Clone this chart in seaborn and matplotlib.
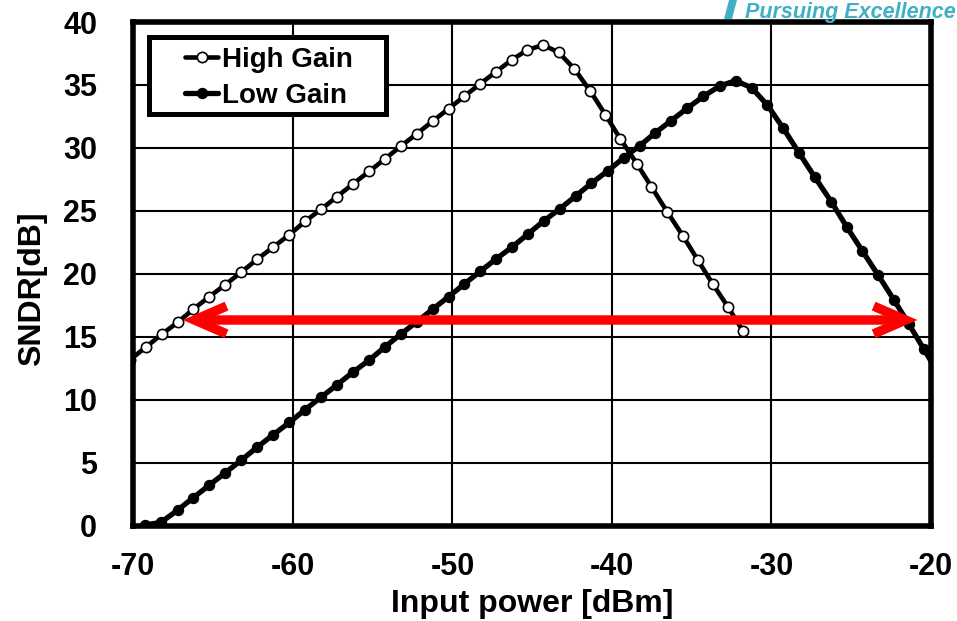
import numpy as np
import pandas as pd
import matplotlib
matplotlib.use("Agg")
import matplotlib.pyplot as plt
from matplotlib.patches import Rectangle, Polygon
import seaborn as sns

# ---------------- data ----------------
high_x = [-70.22, -69.22, -68.22, -67.21, -66.24, -65.23, -64.23, -63.22, -62.24, -61.22,
          -60.21, -59.23, -58.22, -57.24, -56.24, -55.21, -54.21, -53.22, -52.22, -51.22,
          -50.24, -49.25, -48.25, -47.26, -46.27, -45.30, -44.32, -43.34, -42.35, -41.35,
          -40.41, -39.47, -38.44, -37.52, -36.54, -35.56, -34.62, -33.68, -32.71, -31.79]
high_y = [13.16, 14.16, 15.20, 16.15, 17.19, 18.19, 19.14, 20.14, 21.15, 22.13,
          23.11, 24.17, 25.13, 26.12, 27.13, 28.14, 29.14, 30.15, 31.13, 32.14,
          33.11, 34.10, 35.10, 36.05, 37.00, 37.78, 38.17, 37.59, 36.27, 34.50,
          32.64, 30.71, 28.75, 26.90, 24.93, 23.03, 21.10, 19.19, 17.34, 15.46]

low_x = [-69.27, -68.26, -67.21, -66.24, -65.23, -64.23, -63.22, -62.24, -61.25, -60.21,
         -59.23, -58.21, -57.24, -56.24, -55.21, -54.21, -53.22, -52.22, -51.22, -50.24,
         -49.25, -48.25, -47.26, -46.28, -45.26, -44.28, -43.27, -42.25, -41.29, -40.26,
         -39.26, -38.26, -37.27, -36.29, -35.28, -34.26, -33.24, -32.25, -31.25, -30.26,
         -29.26, -28.28, -27.28, -26.25, -25.29, -24.30, -23.32, -22.32, -21.38, -20.44,
         -19.50]
low_y = [0.05, 0.26, 1.24, 2.22, 3.22, 4.20, 5.21, 6.22, 7.20, 8.20,
         9.21, 10.22, 11.17, 12.18, 13.15, 14.21, 15.22, 16.20, 17.20, 18.18,
         19.19, 20.20, 21.18, 22.10, 23.16, 24.19, 25.15, 26.20, 27.19, 28.17,
         29.22, 30.17, 31.21, 32.16, 33.15, 34.10, 34.92, 35.34, 34.78, 33.41,
         31.56, 29.62, 27.67, 25.73, 23.74, 21.81, 19.91, 17.92, 15.99, 14.00,
         12.00]

series_names = ["High Gain", "Low Gain"]
arrow_y = 16.33
arrow_left = -66.9
arrow_right = -20.85

x_ticks = [-70, -60, -50, -40, -30, -20]
y_ticks = [0, 5, 10, 15, 20, 25, 30, 35, 40]
x_label = "Input power [dBm]"
y_label = "SNDR[dB]"
logo_text = "Pursuing Excellence"

# ---------------- style ----------------
sns.set_theme(style="white")
plt.rcParams["font.family"] = ["Liberation Sans", "DejaVu Sans"]
plt.rcParams["font.weight"] = "bold"
for k in ["text.color", "axes.labelcolor", "xtick.color", "ytick.color"]:
    plt.rcParams[k] = "black"

W, H = 957, 621
fig = plt.figure(figsize=(W / 100, H / 100), dpi=100)
ax_l, ax_r, ax_t, ax_b = 133.3, 931.0, 22.0, 525.6
ax = fig.add_axes([ax_l / W, 1 - ax_b / H, (ax_r - ax_l) / W, (ax_b - ax_t) / H])

df_high = pd.DataFrame({"x": high_x, "y": high_y})
df_low = pd.DataFrame({"x": low_x, "y": low_y})

sns.lineplot(data=df_high, x="x", y="y", ax=ax, estimator=None, sort=False,
             color="black", lw=3.3, marker="o", markersize=7.4,
             markerfacecolor="white", markeredgecolor="black", markeredgewidth=1.2,
             label=series_names[0], zorder=4)
sns.lineplot(data=df_low, x="x", y="y", ax=ax, estimator=None, sort=False,
             color="black", lw=3.8, marker="o", markersize=7.2,
             markerfacecolor="black", markeredgecolor="black", markeredgewidth=1.0,
             label=series_names[1], zorder=4)

ax.set_xlim(-70, -20)
ax.set_ylim(0, 40)
ax.set_xticks(x_ticks)
ax.set_yticks(y_ticks)
ax.set_xticklabels([str(v) for v in x_ticks])
ax.set_yticklabels([str(v) for v in y_ticks])
ax.grid(True, color="black", lw=1.5)
ax.set_axisbelow(True)
for s in ax.spines.values():
    s.set_visible(True)
    s.set_color("black")
    s.set_linewidth(4.0)
    s.set_zorder(6)
ax.tick_params(axis="both", length=0, labelsize=22, colors="black")
ax.tick_params(axis="y", pad=26)
ax.tick_params(axis="x", pad=19)
for lab in ax.get_xticklabels() + ax.get_yticklabels():
    lab.set_fontweight("bold")

ax.set_xlabel(x_label, fontsize=23, fontweight="bold", color="black")
ax.set_ylabel(y_label, fontsize=23, fontweight="bold", color="black")
ax.xaxis.set_label_coords(0.5, -0.125)
ax.yaxis.set_label_coords(-0.108, 0.47)

# red double arrow
ax.annotate("", xy=(arrow_left, arrow_y), xytext=(arrow_right, arrow_y),
            arrowprops=dict(arrowstyle="<->,head_length=2.3,head_width=1.0",
                            color="#FF0000", lw=6.8, shrinkA=0, shrinkB=0,
                            mutation_scale=10, joinstyle="miter", capstyle="butt"),
            zorder=7)

# legend box
rect = Rectangle((0.0199, 0.8169), 0.2975, 0.1537, transform=ax.transAxes,
                 facecolor="white", edgecolor="black", lw=3.6, zorder=8)
ax.add_patch(rect)
leg = ax.legend(loc="upper left", bbox_to_anchor=(0.0648, 0.950), frameon=False,
                borderpad=0, borderaxespad=0, handlelength=1.19, handletextpad=0.15,
                labelspacing=0.36, prop={"size": 20, "weight": "bold"})
leg.set_zorder(9)
for t in leg.get_texts():
    t.set_color("black")

# logo fragment
logo_color = "#3FB0C6"
fig.text(0.999, 1 - 18 / H, logo_text, ha="right", va="baseline",
         fontsize=15.5, fontweight="bold", style="italic", color=logo_color)
bar = Polygon([(724 / W, 1 - 19 / H), (732 / W, 1 - 19 / H), (737 / W, 1.0), (729 / W, 1.0)],
              closed=True, transform=fig.transFigure, facecolor=logo_color, edgecolor="none")
fig.patches.append(bar)

fig.savefig("out.png", dpi=100)
